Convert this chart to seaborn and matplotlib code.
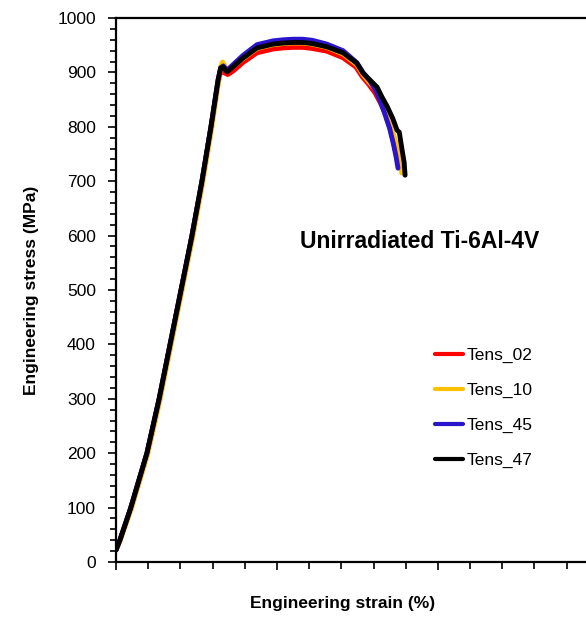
import matplotlib
matplotlib.use("Agg")
import matplotlib.pyplot as plt
import matplotlib.transforms as mtransforms
from matplotlib.ticker import MultipleLocator
import seaborn as sns
import pandas as pd

# ---- data ----
strain_47 = [0.00, 0.12, 0.45, 0.96, 1.34, 1.68, 2.02, 2.36, 2.67, 2.95, 3.17,
             3.25, 3.33, 3.45, 3.63, 3.94, 4.38, 4.88, 5.20, 5.50, 5.80, 6.10, 6.55, 7.05, 7.48,
             7.67, 7.89, 8.11, 8.26, 8.42, 8.60, 8.73, 8.80, 8.88, 8.95, 8.98]
stress_47 = [22, 40, 98, 200, 300, 400, 500, 600, 700, 800, 886,
             908, 910, 901, 910, 926, 945, 952, 954, 955, 955, 953, 947, 936, 917,
             899, 886, 873, 855, 838, 815, 794, 790, 760, 735, 711]

strain_02 = [0.00, 0.12, 0.45, 0.96, 1.34, 1.68, 2.02, 2.36, 2.67, 2.95, 3.17,
             3.25, 3.35, 3.47, 3.65, 3.94, 4.38, 4.88, 5.20, 5.50, 5.80, 6.10, 6.55, 7.05, 7.45,
             7.65, 7.85, 8.05, 8.22, 8.38, 8.55, 8.68]
stress_02 = [22, 40, 98, 200, 300, 400, 500, 600, 700, 800, 880,
             902, 900, 896, 903, 918, 936, 943, 945, 946, 946, 944, 939, 927, 910,
             892, 878, 862, 843, 822, 790, 755]

strain_10 = [0.00, 0.13, 0.47, 0.98, 1.36, 1.70, 2.04, 2.38, 2.69, 2.97, 3.19,
             3.26, 3.31, 3.45, 3.63, 3.94, 4.38, 4.88, 5.20, 5.50, 5.80, 6.10, 6.55, 7.05, 7.48,
             7.67, 7.89, 8.11, 8.26, 8.42, 8.58, 8.70, 8.80, 8.88]
stress_10 = [22, 39, 96, 197, 296, 396, 496, 596, 696, 796, 884,
             912, 919, 905, 911, 925, 944, 951, 953, 954, 954, 952, 946, 934, 914,
             896, 880, 866, 848, 826, 795, 770, 740, 715]

strain_45 = [0.00, 0.12, 0.45, 0.96, 1.34, 1.68, 2.02, 2.36, 2.67, 2.95, 3.17,
             3.25, 3.33, 3.45, 3.63, 3.94, 4.38, 4.88, 5.20, 5.50, 5.80, 6.10, 6.55, 7.05, 7.48,
             7.67, 7.89, 8.08, 8.22, 8.36, 8.50, 8.62, 8.70, 8.76]
stress_45 = [22, 40, 98, 200, 300, 400, 500, 600, 700, 800, 886,
             908, 912, 904, 914, 931, 951, 958, 960, 961, 961, 959, 952, 940, 918,
             900, 884, 866, 846, 822, 797, 768, 745, 724]

series_names = ["Tens_02", "Tens_10", "Tens_45", "Tens_47"]
colors = ["#FF0000", "#FFC000", "#2A14CC", "#000000"]

frames = []
for name, xs, ys in zip(series_names,
                        [strain_02, strain_10, strain_45, strain_47],
                        [stress_02, stress_10, stress_45, stress_47]):
    frames.append(pd.DataFrame({"strain": xs, "stress": ys, "series": name}))
df = pd.concat(frames, ignore_index=True)

# ---- figure ----
sns.set_style("ticks")
plt.rcParams["font.family"] = ["Liberation Sans", "DejaVu Sans"]
for key in ["text.color", "axes.labelcolor", "xtick.color", "ytick.color", "axes.edgecolor"]:
    plt.rcParams[key] = "black"

fig = plt.figure(figsize=(5.86, 6.18), dpi=100)
ax = fig.add_axes([116 / 586, 56 / 618, 1 - 116 / 586, 544 / 618])

sns.lineplot(data=df, x="strain", y="stress", hue="series", hue_order=series_names,
             palette=dict(zip(series_names, colors)), sort=False, estimator=None,
             linewidth=3.5, ax=ax)

ax.set_xlim(0, 14.6)
ax.set_ylim(0, 1000)
ax.yaxis.set_major_locator(MultipleLocator(100))
ax.yaxis.set_minor_locator(MultipleLocator(20))
ax.xaxis.set_major_locator(MultipleLocator(5))
ax.xaxis.set_minor_locator(MultipleLocator(1))
ax.set_xticklabels([])
ax.tick_params(axis="y", which="major", length=6, width=1.2, labelsize=12.5, direction="out", pad=8.5)
ax.tick_params(axis="y", which="minor", length=4, width=1.2, direction="out")
ax.tick_params(axis="x", which="major", length=6, width=1.2, direction="out")
ax.tick_params(axis="x", which="minor", length=5, width=1.2, direction="out")

for side in ["left", "bottom", "top"]:
    ax.spines[side].set_linewidth(1.6)
ax.spines["right"].set_visible(False)

ax.set_xlabel("Engineering strain (%)", fontsize=12.5, fontweight="bold")
ax.set_ylabel("Engineering stress (MPa)", fontsize=12.5, fontweight="bold", labelpad=13)
ax.xaxis.set_label_coords((343 - 116) / 470, -34 / 544)

ax.text(0.391, 590, "Unirradiated Ti-6Al-4V",
        transform=mtransforms.blended_transform_factory(ax.transAxes, ax.transData),
        fontsize=16.5, fontweight="bold", va="center", ha="left")

leg = ax.legend(loc="upper left", bbox_to_anchor=(428 / 586, 1 - 341 / 618),
                bbox_transform=fig.transFigure, frameon=False, fontsize=12.5,
                handlelength=1.6, handletextpad=0.2, labelspacing=1.13, borderaxespad=0)
for line in leg.get_lines():
    line.set_linewidth(3)

fig.savefig("out.png", dpi=100)
